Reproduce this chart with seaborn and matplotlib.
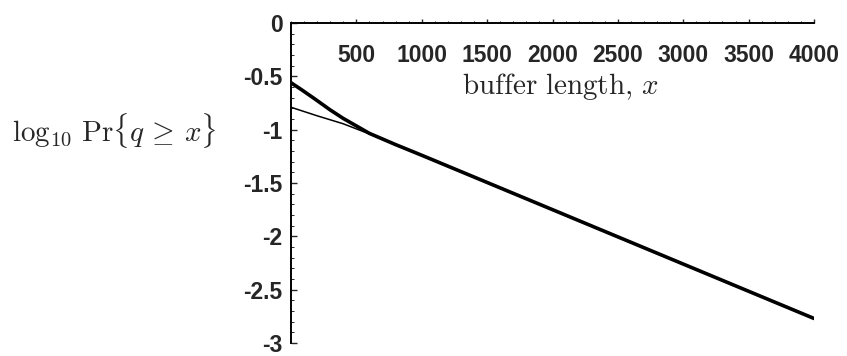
import matplotlib
matplotlib.use("Agg")
import matplotlib.pyplot as plt
import seaborn as sns
import pandas as pd
from matplotlib.ticker import MultipleLocator

# data
thick_x = [0, 80, 180, 300, 400, 500, 600, 800, 1000, 1500, 2000, 2500, 3000, 3500, 4000]
thick_y = [-0.56, -0.625, -0.71, -0.815, -0.895, -0.965, -1.035, -1.14, -1.24, -1.495, -1.75, -2.005, -2.26, -2.515, -2.77]
thin_x = [0, 200, 400, 600, 800, 1000, 2000, 3000, 4000]
thin_y = [-0.79, -0.87, -0.945, -1.04, -1.14, -1.24, -1.75, -2.26, -2.77]
x_ticks = [500, 1000, 1500, 2000, 2500, 3000, 3500, 4000]
y_ticks = [0, -0.5, -1, -1.5, -2, -2.5, -3]
y_tick_labels = ["0", "-0.5", "-1", "-1.5", "-2", "-2.5", "-3"]

df = pd.concat([
    pd.DataFrame({"x": thick_x, "y": thick_y, "s": "thick"}),
    pd.DataFrame({"x": thin_x, "y": thin_y, "s": "thin"}),
])

sns.set_style("white")
plt.rcParams["font.family"] = ["Liberation Sans", "DejaVu Sans"]
plt.rcParams["mathtext.fontset"] = "cm"

fig = plt.figure(figsize=(8.47, 3.56), dpi=100)
ax = fig.add_axes([291 / 847, 1 - 343 / 356, (814 - 291) / 847, (343 - 23) / 356])

sns.lineplot(data=df, x="x", y="y", hue="s", size="s",
             sizes={"thick": 2.6, "thin": 1.1},
             palette={"thick": "black", "thin": "black"},
             legend=False, ax=ax, estimator=None, sort=False)

ax.set_xlim(0, 4000)
ax.set_ylim(-3, 0)
ax.set_xlabel("")
ax.set_ylabel("")

for s in ["bottom", "right"]:
    ax.spines[s].set_visible(False)
for s in ["top", "left"]:
    ax.spines[s].set_linewidth(1.4)
    ax.spines[s].set_color("black")

ax.xaxis.tick_top()
ax.set_xticks(x_ticks)
ax.set_xticklabels([str(v) for v in x_ticks])
ax.xaxis.set_minor_locator(MultipleLocator(100))
ax.tick_params(axis="x", which="major", direction="out", length=3, width=1,
               pad=-35, labelsize=16.5, top=True, bottom=False)
ax.tick_params(axis="x", which="minor", direction="out", length=1.5, width=0.7, top=True, bottom=False)

ax.set_yticks(y_ticks)
ax.set_yticklabels(y_tick_labels)
ax.yaxis.set_minor_locator(MultipleLocator(0.1))
ax.tick_params(axis="y", which="major", direction="in", length=4, width=1,
               pad=6, labelsize=16.5, left=True, right=False)
ax.tick_params(axis="y", which="minor", direction="in", length=2, width=0.7, left=True, right=False)

for lab in ax.get_xticklabels() + ax.get_yticklabels():
    lab.set_fontweight("bold")

fig.text(561 / 847, 1 - 87 / 356, r"$\mathrm{buffer\ length,}\,x$",
         ha="center", va="center", fontsize=21)
fig.text(12 / 847, 1 - 130 / 356, r"$\log_{10}\,\mathrm{Pr}\{q\,\geq\,x\}$",
         ha="left", va="center", fontsize=21)

fig.savefig("out.png", dpi=100)
